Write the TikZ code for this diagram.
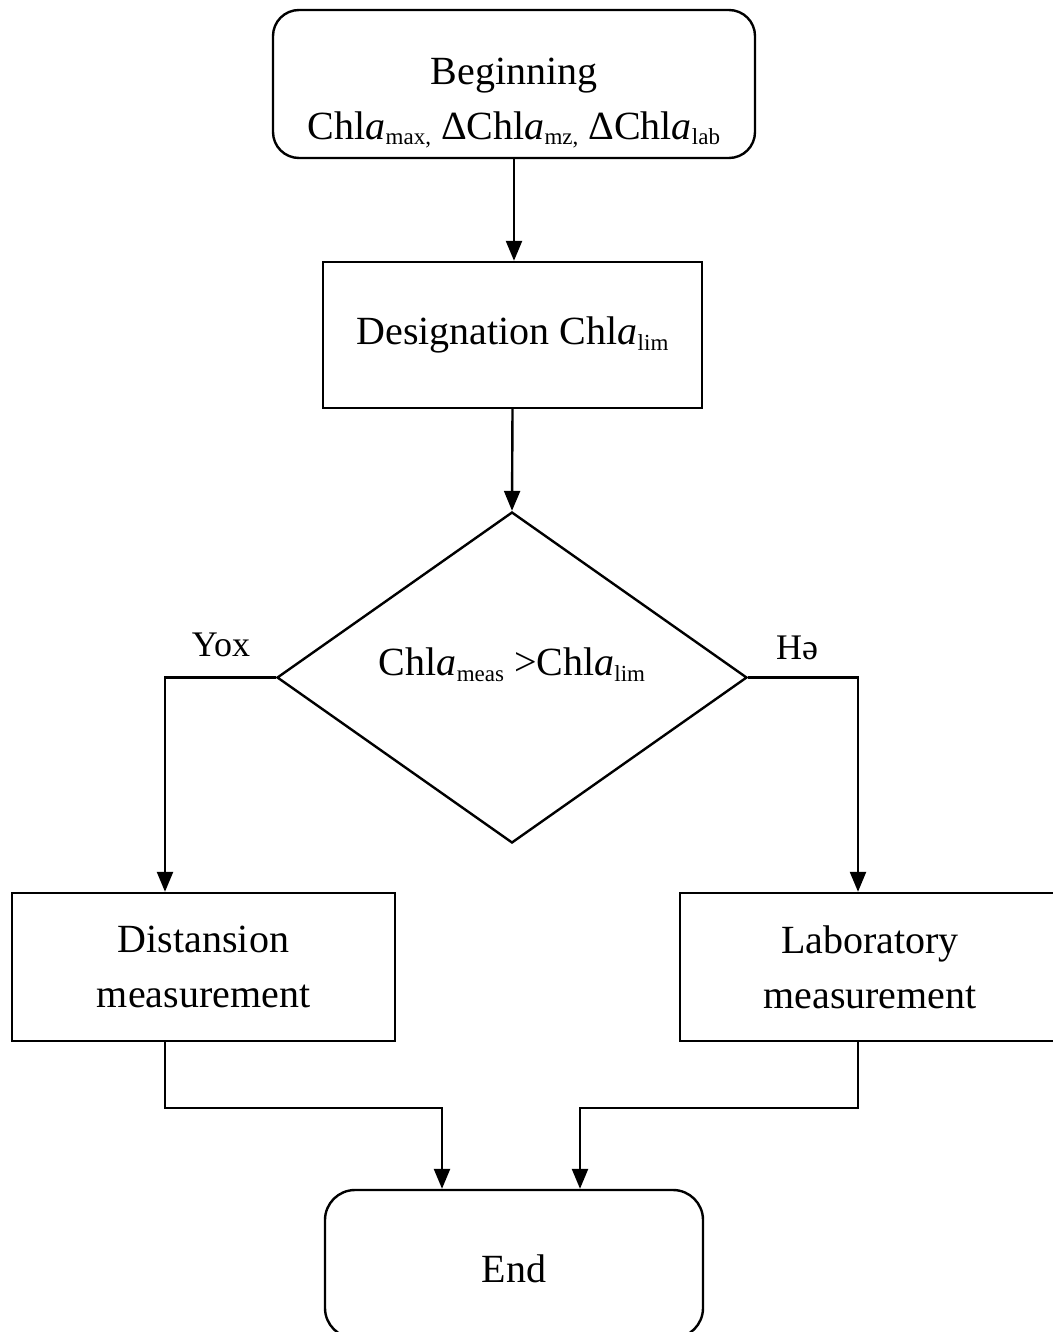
\documentclass[tikz,border=0pt]{standalone}
\usepackage{fontspec}
\setmainfont{Liberation Serif}
\usetikzlibrary{shapes.geometric,arrows.meta}
\newcommand\sbx[1]{\raisebox{-0.3ex}{\fontsize{23}{23}\selectfont #1}}
\tikzset{
  line/.style={line width=2.4pt, draw=black},
  arr/.style={line, -{Triangle[width=16pt,length=20pt]}},
  txt/.style={inner sep=0pt, align=center, font=\fontsize{40}{55}\selectfont},
  base/.style={line, fill=white, txt},
  rbox/.style={base, rectangle, rounded corners=26pt},
  sbox/.style={base, rectangle},
  dbox/.style={base, diamond},
  lbl/.style={font=\fontsize{36}{40}\selectfont, inner sep=0pt}
}
\begin{document}
\begin{tikzpicture}[x=1pt,y=-1pt]
\useasboundingbox[fill=white] (0,0) rectangle (1052,1332);

\node[rbox, minimum width=482pt, minimum height=148pt,
  label={[txt, yshift=-19pt]center:{Beginning\\Chl\textit{a}\sbx{max,} ΔChl\textit{a}\sbx{mz,} ΔChl\textit{a}\sbx{lab}}}] (begin) at (514,84) {};
\node[sbox, minimum width=379pt, minimum height=146pt] (desig) at (512.5,335)
  {Designation Chl\textit{a}\sbx{lim}};
\node[dbox, minimum width=470pt, minimum height=331pt,
  label={[txt, yshift=13pt]center:{Chl\textit{a}\sbx{meas} >Chl\textit{a}\sbx{lim}}}] (dec) at (512,677.5) {};
\node[sbox, minimum width=383pt, minimum height=148pt] (dist) at (203.5,967)
  {Distansion\\measurement};
\node[sbox, minimum width=380pt, minimum height=148pt] (lab) at (870,967)
  {Laboratory\\measurement};
\node[rbox, rounded corners=30pt, minimum width=378pt, minimum height=148pt,
  label={[txt, yshift=-5pt]center:End}] (end) at (514,1264) {};

\node[lbl] (yox) at (221,645) {Yox};
\node[lbl] (he) at (797,648) {Hə};

\coordinate (yl) at (165,677.5);
\coordinate (hr) at (858,677.5);
\coordinate (dl) at (165,1108);
\coordinate (el) at (442,1108);
\coordinate (lr) at (858,1108);
\coordinate (er) at (580,1108);

\draw[arr] (begin.south) -- (begin.south |- desig.north);
\draw[arr] (desig.south) -- (dec.north);
\draw[arr] (dec.west) -- (yl) -- (yl |- dist.north);
\draw[arr] (dec.east) -- (hr) -- (hr |- lab.north);
\draw[arr] (dl |- dist.south) -- (dl) -- (el) -- (el |- end.north);
\draw[arr] (lr |- lab.south) -- (lr) -- (er) -- (er |- end.north);
\end{tikzpicture}
\end{document}
